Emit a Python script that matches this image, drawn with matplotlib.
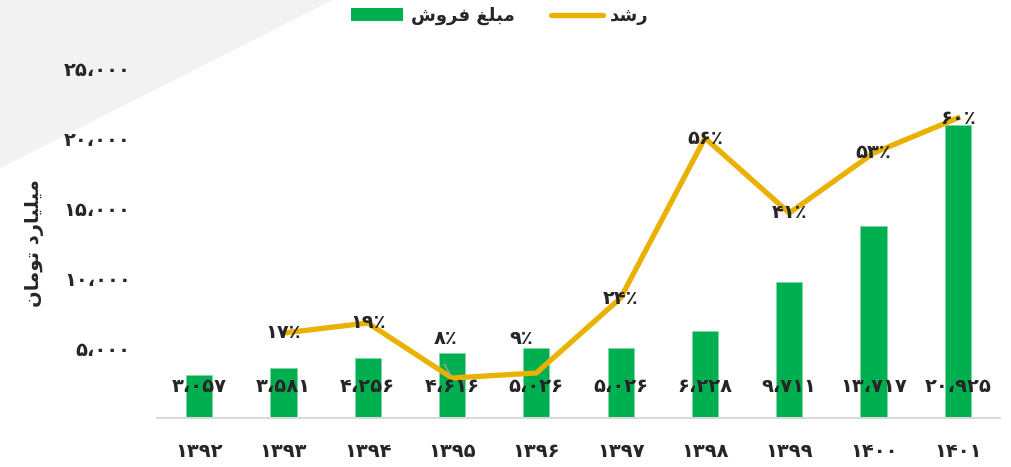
import matplotlib
matplotlib.use("Agg")
import matplotlib.pyplot as plt
from matplotlib.patches import Polygon, Patch
from matplotlib.lines import Line2D

# ---- data ----
years = ["۱۳۹۲", "۱۳۹۳", "۱۳۹۴", "۱۳۹۵", "۱۳۹۶", "۱۳۹۷", "۱۳۹۸", "۱۳۹۹", "۱۴۰۰", "۱۴۰۱"]
sales = [3057, 3581, 4256, 4616, 5026, 5026, 6228, 9711, 13717, 20925]
sales_labels = ["۳،۰۵۷", "۳،۵۸۱", "۴،۲۵۶", "۴،۶۱۶", "۵،۰۲۶", "۵،۰۲۶", "۶،۲۲۸", "۹،۷۱۱", "۱۳،۷۱۷", "۲۰،۹۲۵"]
growth_idx = [1, 2, 3, 4, 5, 6, 7, 8, 9]
growth = [0.17, 0.19, 0.08, 0.09, 0.24, 0.56, 0.41, 0.53, 0.60]
growth_labels = ["۱۷٪", "۱۹٪", "۸٪", "۹٪", "۲۴٪", "۵۶٪", "۴۱٪", "۵۳٪", "۶۰٪"]
yticks = [5000, 10000, 15000, 20000, 25000]
ytick_labels = ["۵،۰۰۰", "۱۰،۰۰۰", "۱۵،۰۰۰", "۲۰،۰۰۰", "۲۵،۰۰۰"]
# Persian text in presentation forms (visual order)
label_sales = "\uFEB5\uFEED\uFEAE\uFED3 \uFECE\uFEE0\uFE92\uFEE3"      # مبلغ فروش
label_growth = "\uFEAA\uFEB7\uFEAD"                                       # رشد
ylabel = "\uFEE5\uFE8E\uFEE3\uFEEE\uFE97 \uFEA9\uFEAD\uFE8E\uFEF4\uFEE0\uFEF4\uFEE3"  # میلیارد تومان

GREEN = "#00B050"
GOLD = "#E9B200"
TXT = "#262626"

plt.rcParams['font.family'] = ['DejaVu Sans']
fig = plt.figure(figsize=(10.12, 4.67), dpi=100)
W, H = 1012, 467

# background triangle
tri = Polygon([(0, 1), (333 / W, 1), (0, 1 - 168 / H)], closed=True,
              transform=fig.transFigure, facecolor="#F2F2F2", edgecolor="none", zorder=-5)
fig.patches.append(tri)

left, right, top, bottom = 157, 1000, 68, 418
ax = fig.add_axes([left / W, 1 - bottom / H, (right - left) / W, (bottom - top) / H])
ax.patch.set_visible(False)
x = list(range(len(years)))
ax.bar(x, sales, width=0.31, color=GREEN, edgecolor="#7FD8A8", linewidth=0.6, zorder=2)
ax.set_xlim(-0.5, len(years) - 0.5)
ax.set_ylim(0, 25000)
ax.set_yticks(yticks)
ax.set_yticklabels(ytick_labels, fontsize=14, fontweight="bold", color=TXT)
ax.set_xticks(x)
ax.set_xticklabels(years, fontsize=14, fontweight="bold", color=TXT)
ax.tick_params(axis="both", length=0)
ax.tick_params(axis="y", pad=19)
ax.tick_params(axis="x", pad=17)
for s in ["top", "right", "left"]:
    ax.spines[s].set_visible(False)
ax.spines["bottom"].set_color("#D9D9D9")
ax.spines["bottom"].set_linewidth(1.5)
ax.set_ylabel(ylabel, fontsize=14, fontweight="bold", color=TXT, labelpad=14)

ax2 = ax.twinx()
ax2.set_ylim(0, 0.7)
ax2.axis("off")
ax2.plot(growth_idx, growth, color=GOLD, linewidth=3.8, solid_joinstyle="miter", zorder=3)

# bar value labels (inside base)
for i, lab in enumerate(sales_labels):
    ax2.annotate(lab, xy=(i, 0), xycoords=ax.transData, xytext=(0, 32),
                 textcoords="offset pixels", ha="center", va="center",
                 fontsize=14, fontweight="bold", color=TXT, zorder=5)

# growth labels
offsets = [(0, 0), (0, 0), (-7, 40), (-15, 35), (0, 0), (0, 0), (0, 0), (0, 0), (0, 0)]
for xi, g, lab, off in zip(growth_idx, growth, growth_labels, offsets):
    ax2.annotate(lab, xy=(xi, g), xytext=off, textcoords="offset pixels",
                 ha="center", va="center", fontsize=14, fontweight="bold",
                 color=TXT, zorder=6)
# leader line for the moved label
ax2.annotate("", xy=(3, growth[2]), xytext=(-9, 16), textcoords="offset pixels",
             arrowprops=dict(arrowstyle="-", color="#A6A6A6", lw=1.0))

handles = [Patch(facecolor=GREEN, edgecolor="none"),
           Line2D([0], [0], color=GOLD, linewidth=3.8, solid_capstyle="round")]
fig.legend(handles, [label_sales, label_growth], loc="upper center",
           bbox_to_anchor=(500 / W, 1.02), ncol=2, frameon=False,
           prop=dict(size=13, weight="bold"), handlelength=2.9, handleheight=0.7,
           handletextpad=0.4, columnspacing=2.0, labelcolor=TXT)

fig.savefig("out.png", dpi=100)
